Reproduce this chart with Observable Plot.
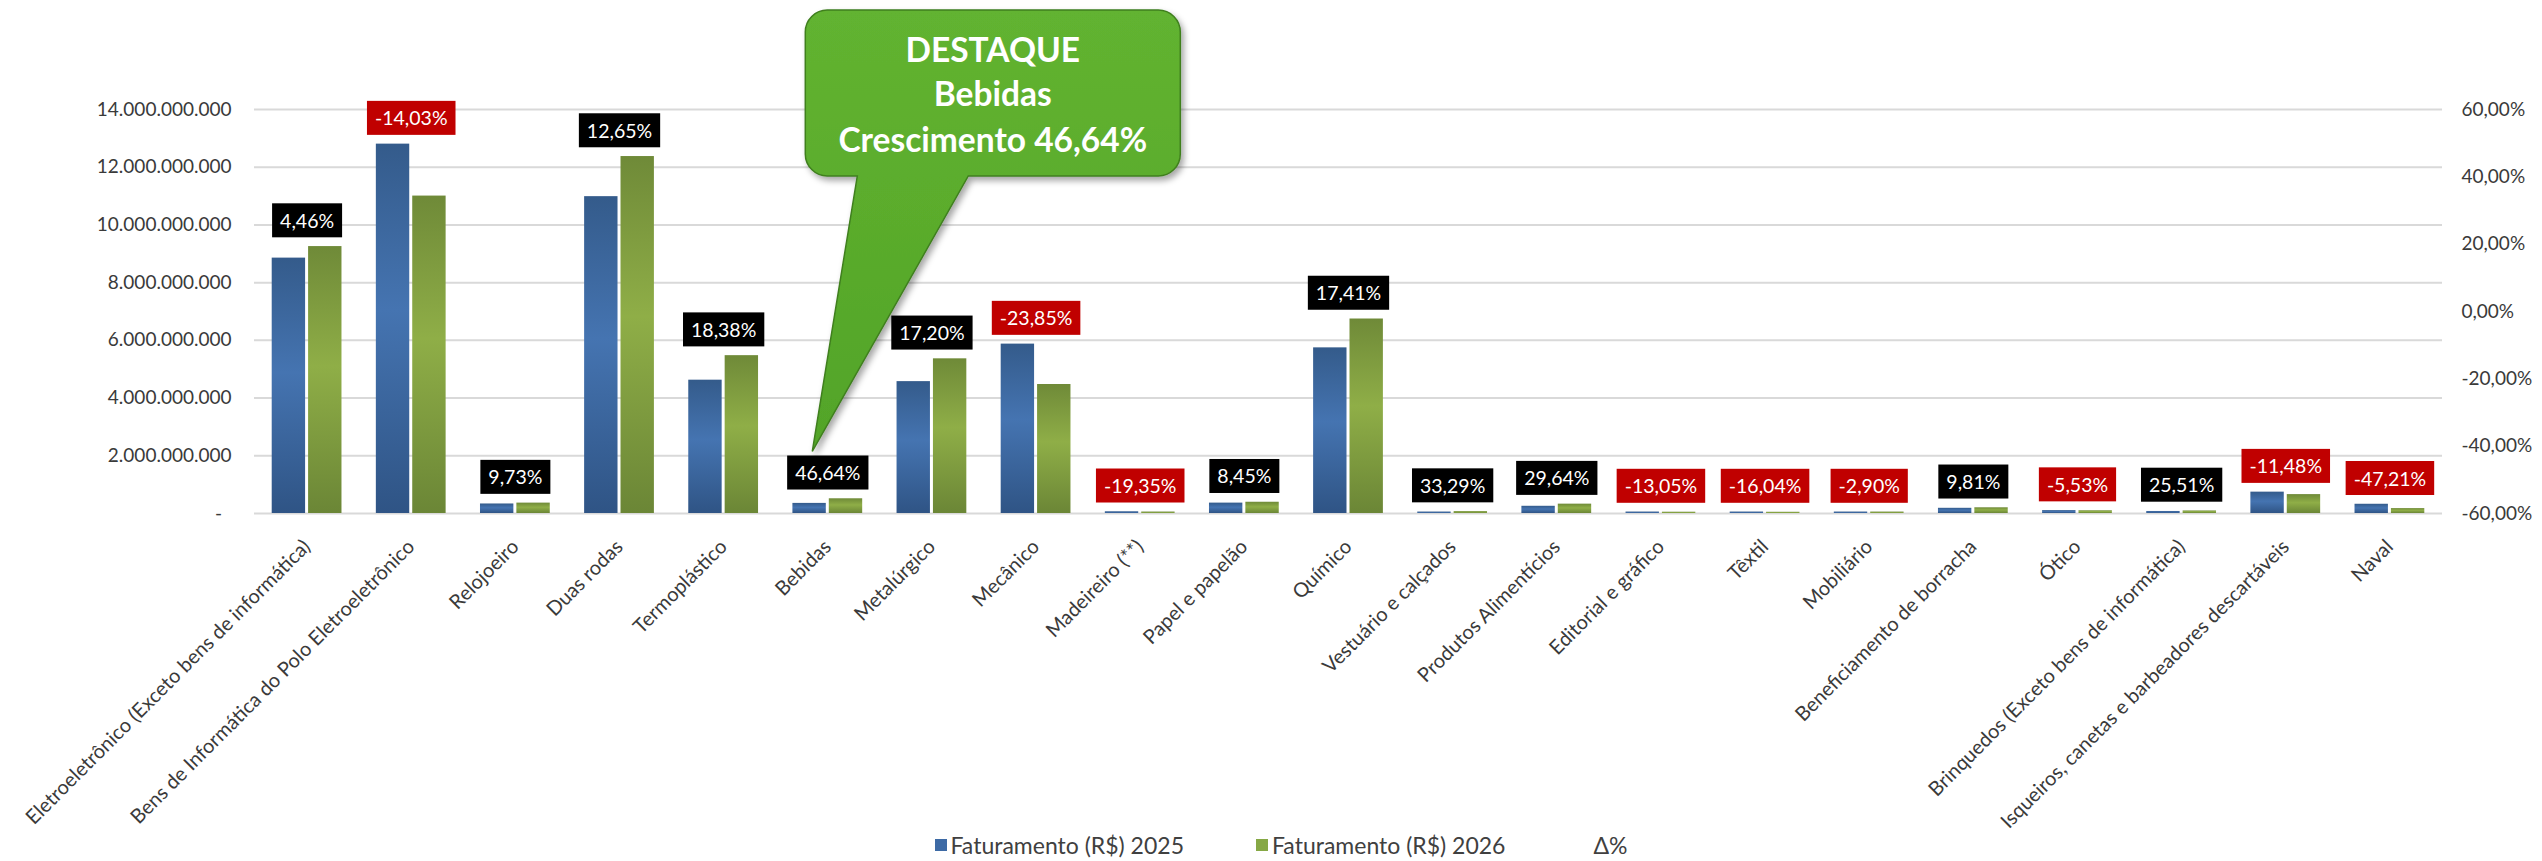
<!DOCTYPE html>
<html>
<head>
<meta charset="utf-8">
<script src="https://cdn.jsdelivr.net/npm/d3@7"></script>
<script src="https://cdn.jsdelivr.net/npm/@observablehq/plot@0.6"></script>
<style>
  html, body { margin: 0; padding: 0; background: #fff; overflow: hidden; }
  #chart { width: 2542px; }
  .legend { display: flex; justify-content: center; align-items: center; height: 33px;
            font-family: Lato, sans-serif; font-size: 23px; color: #404040; padding-left: 20px; }
  .legend .item { display: flex; align-items: center; }
  .legend .sw { width: 12px; height: 12px; margin-right: 4px; display: inline-block; }
  .legend .gap { width: 72px; }
</style>
</head>
<body>
<div id="chart"></div>
<div class="legend" id="legend"></div>
<script>
// ---------- data ----------
const categories = [
  "Eletroeletrônico (Exceto bens de informática)",
  "Bens de Informática do Polo Eletroeletrônico",
  "Relojoeiro",
  "Duas rodas",
  "Termoplástico",
  "Bebidas",
  "Metalúrgico",
  "Mecânico",
  "Madeireiro (**)",
  "Papel e papelão",
  "Químico",
  "Vestuário e calçados",
  "Produtos Alimentícios",
  "Editorial e gráfico",
  "Têxtil",
  "Mobiliário",
  "Beneficiamento de borracha",
  "Ótico",
  "Brinquedos (Exceto bens de informática)",
  "Isqueiros, canetas e barbeadores descartáveis",
  "Naval"
];
const fat2025 = [8.85e9, 12.80e9, 0.33e9, 10.98e9, 4.62e9, 0.35e9, 4.57e9, 5.87e9, 0.06e9, 0.36e9, 5.74e9,
                 0.05e9, 0.25e9, 0.05e9, 0.05e9, 0.05e9, 0.18e9, 0.10e9, 0.07e9, 0.74e9, 0.32e9];
const fat2026 = [9.25e9, 11.00e9, 0.36e9, 12.37e9, 5.47e9, 0.51e9, 5.36e9, 4.47e9, 0.05e9, 0.39e9, 6.74e9,
                 0.066e9, 0.324e9, 0.044e9, 0.042e9, 0.049e9, 0.198e9, 0.094e9, 0.088e9, 0.655e9, 0.17e9];
const deltaPct = [4.46, -14.03, 9.73, 12.65, 18.38, 46.64, 17.20, -23.85, -19.35, 8.45, 17.41,
                  33.29, 29.64, -13.05, -16.04, -2.90, 9.81, -5.53, 25.51, -11.48, -47.21];
const leftTicks = [0, 2e9, 4e9, 6e9, 8e9, 10e9, 12e9, 14e9];
const rightTicks = [-60, -40, -20, 0, 20, 40, 60];
const seriesNames = ["Faturamento (R$) 2025", "Faturamento (R$) 2026", "Δ%"];
const highlight = { title: "DESTAQUE", category: "Bebidas", prefix: "Crescimento" };

// ---------- helpers ----------
const data = categories.map((c, i) => ({ cat: c, v25: fat2025[i], v26: fat2026[i], delta: deltaPct[i] }));
const br = d3.formatLocale({ decimal: ",", thousands: ".", grouping: [3], currency: ["R$", ""], minus: "-" });
const fmtInt = br.format(",.0f");
const fmtPct = v => br.format(".2f")(v) + "%";
const leftDomain = [leftTicks[0], leftTicks[leftTicks.length - 1]];
// secondary (right) axis: -60%..60% spans the same vertical extent as the primary axis
const pctToY = d3.scaleLinear().domain([rightTicks[0], rightTicks[rightTicks.length - 1]]).range(leftDomain);

const W = 2542, H = 828, mL = 254, mR = 100, mT = 109, mB = 315;
const xOpts = { type: "band", domain: categories, range: [mL, W - mR], paddingInner: 0.33, paddingOuter: 0.17, round: false };
const bw = Plot.scale({ x: xOpts }).bandwidth;
const half = bw / 2 + 1.5;
const FONT = "Lato, 'Open Sans', sans-serif";

const chart = Plot.plot({
  width: W, height: H,
  marginLeft: mL, marginRight: mR, marginTop: mT, marginBottom: mB,
  style: { fontFamily: FONT, fontSize: "19px", color: "#3a3a3a", background: "transparent", overflow: "visible" },
  x: { domain: categories, paddingInner: 0.33, paddingOuter: 0.17, round: false },
  y: { domain: leftDomain },
  marks: [
    Plot.ruleY(leftTicks, { stroke: "#d9d9d9", strokeWidth: 2 }),
    Plot.axisY(leftTicks, { anchor: "left", tickSize: 0, tickPadding: 23, label: null, fontSize: 19,
      tickFormat: v => v === 0 ? "-\u2002" : fmtInt(v) }),
    Plot.axisY(rightTicks.map(p => pctToY(p)), { anchor: "right", tickSize: 0, tickPadding: 19, label: null, fontSize: 19,
      tickFormat: v => fmtPct(Math.round(pctToY.invert(v))) }),
    Plot.axisX({ tickRotate: -45, tickSize: 0, tickPadding: 30, label: null, fontSize: 20 }),
    Plot.barY(data, { x: "cat", y: "v25", fill: "url(#gBlue)", insetRight: half }),
    Plot.barY(data, { x: "cat", y: "v26", fill: "url(#gGreen)", insetLeft: half }),
    Plot.text(data.filter(d => d.delta >= 0), { x: "cat", y: d => Math.max(d.v25, d.v26), text: d => fmtPct(d.delta),
      dy: -25, fill: "white", fontSize: 19.5, className: "lblpos" }),
    Plot.text(data.filter(d => d.delta < 0), { x: "cat", y: d => Math.max(d.v25, d.v26), text: d => fmtPct(d.delta),
      dy: -25, fill: "white", fontSize: 19.5, className: "lblneg" })
  ]
});

document.getElementById("chart").append(chart);

// ---------- post-processing: gradients, label boxes, callout ----------
const svg = d3.select(chart);
const defs = svg.insert("defs", ":first-child");
function vgrad(id, stops) {
  const g = defs.append("linearGradient").attr("id", id).attr("x1", 0).attr("y1", 0).attr("x2", 0).attr("y2", 1);
  stops.forEach(([o, c]) => g.append("stop").attr("offset", o).attr("stop-color", c));
}
vgrad("gBlue", [[0, "#345b8b"], [0.45, "#4574b1"], [1, "#2f5485"]]);
vgrad("gGreen", [[0, "#6f8a38"], [0.45, "#8fae47"], [1, "#6b8636"]]);
vgrad("gCallout", [[0, "#62b330"], [1, "#52a428"]]);
const f = defs.append("filter").attr("id", "shadow").attr("x", "-20%").attr("y", "-20%").attr("width", "140%").attr("height", "140%");
f.append("feDropShadow").attr("dx", 3).attr("dy", 4).attr("stdDeviation", 3).attr("flood-color", "#000").attr("flood-opacity", 0.35);

for (const [cls, col] of [["lblpos", "#000000"], ["lblneg", "#c00000"]]) {
  svg.selectAll(`g.${cls} text`).each(function () {
    const b = this.getBBox();
    const w = b.width + 16, h = 34;
    const r = d3.select(this.parentNode).insert("rect", () => this)
      .attr("x", b.x + b.width / 2 - w / 2).attr("y", b.y + b.height / 2 - h / 2)
      .attr("width", w).attr("height", h).attr("fill", col);
    if (this.getAttribute("transform")) r.attr("transform", this.getAttribute("transform"));
  });
}

// callout anchored to the highlighted category's label
const xs = chart.scale("x"), ys = chart.scale("y");
const bi = categories.indexOf(highlight.category);
const bx = xs.apply(highlight.category) + xs.bandwidth / 2;
const labelTop = ys.apply(Math.max(fat2025[bi], fat2026[bi])) - 8 - 34;
const tip = [bx - 15, labelTop - 5];
const L = tip[0] - 7, R = L + 375, T = 10, B = 176, rr = 22;
const tailL = tip[0] + 45, tailR = tip[0] + 156;
const path = `M${L + rr},${T} H${R - rr} A${rr},${rr} 0 0 1 ${R},${T + rr} V${B - rr} A${rr},${rr} 0 0 1 ${R - rr},${B}
  H${tailR} L${tip[0]},${tip[1]} L${tailL},${B} H${L + rr} A${rr},${rr} 0 0 1 ${L},${B - rr} V${T + rr} A${rr},${rr} 0 0 1 ${L + rr},${T} Z`;
const cg = svg.append("g");
cg.append("path").attr("d", path).attr("fill", "url(#gCallout)").attr("stroke", "#3f7f1f").attr("stroke-width", 1.5)
  .attr("filter", "url(#shadow)");
const cx = (L + R) / 2;
[[highlight.title, 62], [highlight.category, 106], [`${highlight.prefix} ${fmtPct(deltaPct[bi])}`, 152]].forEach(([t, y]) => {
  cg.append("text").attr("x", cx).attr("y", y).attr("text-anchor", "middle").attr("fill", "#fff")
    .attr("font-family", FONT).attr("font-weight", "bold").attr("font-size", 33.5).text(t);
});

// ---------- legend ----------
const legendColors = ["#3d6aa5", "#86a845", "transparent"];
const lg = document.getElementById("legend");
seriesNames.forEach((n, i) => {
  if (i > 0) { const g = document.createElement("span"); g.className = "gap"; lg.append(g); }
  const it = document.createElement("span"); it.className = "item";
  const sw = document.createElement("span"); sw.className = "sw"; sw.style.background = legendColors[i];
  const tx = document.createElement("span"); tx.textContent = n;
  it.append(sw, tx); lg.append(it);
});
</script>
</body>
</html>
